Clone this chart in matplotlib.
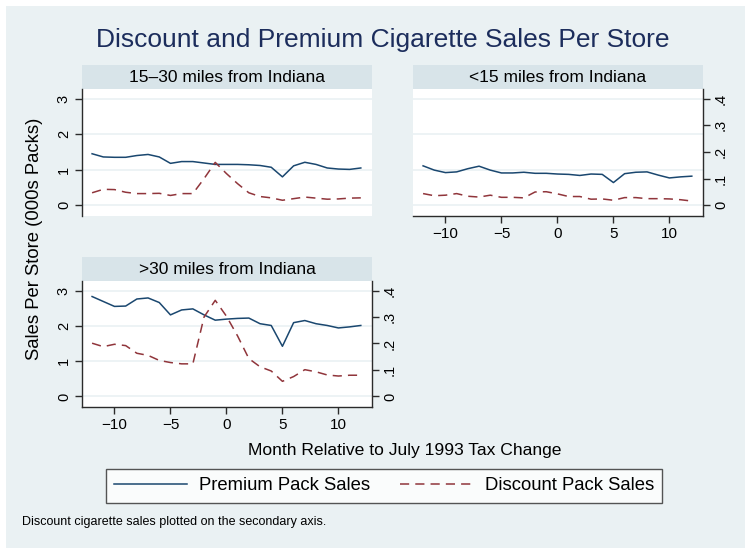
import matplotlib.pyplot as plt
from matplotlib.lines import Line2D
from matplotlib.patches import Rectangle

plt.rcParams['font.family'] = ['Liberation Sans', 'DejaVu Sans']
plt.rcParams['axes.unicode_minus'] = True

# months relative to the July 1993 tax change
months = list(range(-12, 13))

# premium sales (primary axis, 000s packs)
premium_15_30 = [1.45, 1.36, 1.35, 1.35, 1.40, 1.43, 1.36, 1.18, 1.23, 1.23, 1.19, 1.15, 1.15,
                 1.15, 1.14, 1.12, 1.07, 0.80, 1.11, 1.21, 1.15, 1.05, 1.02, 1.01, 1.05]
premium_lt15 = [1.11, 0.99, 0.92, 0.94, 1.03, 1.10, 0.99, 0.91, 0.91, 0.93, 0.90, 0.90, 0.88,
                0.87, 0.84, 0.88, 0.87, 0.64, 0.89, 0.93, 0.94, 0.85, 0.77, 0.80, 0.82]
premium_gt30 = [2.83, 2.69, 2.55, 2.56, 2.76, 2.79, 2.66, 2.31, 2.45, 2.48, 2.31, 2.16, 2.19,
                2.21, 2.22, 2.06, 2.01, 1.42, 2.09, 2.15, 2.06, 2.01, 1.94, 1.97, 2.01]

# discount sales (secondary axis)
discount_15_30 = [0.047, 0.060, 0.059, 0.049, 0.044, 0.044, 0.045, 0.037, 0.044, 0.044, 0.100, 0.161, 0.119,
                  0.081, 0.047, 0.033, 0.028, 0.019, 0.025, 0.031, 0.027, 0.023, 0.024, 0.027, 0.028]
discount_lt15 = [0.044, 0.036, 0.038, 0.044, 0.034, 0.031, 0.038, 0.030, 0.030, 0.028, 0.050, 0.051, 0.043,
                 0.033, 0.033, 0.023, 0.024, 0.019, 0.029, 0.029, 0.025, 0.025, 0.024, 0.021, 0.016]
discount_gt30 = [0.201, 0.188, 0.197, 0.192, 0.163, 0.155, 0.136, 0.128, 0.123, 0.123, 0.300, 0.363, 0.303,
                 0.228, 0.143, 0.112, 0.096, 0.057, 0.075, 0.101, 0.093, 0.081, 0.077, 0.080, 0.080]

panel_titles = ['15\u201330 miles from Indiana', '<15 miles from Indiana', '>30 miles from Indiana']
y_ticks = [0, 1, 2, 3]
y2_ticks = [0, 0.1, 0.2, 0.3, 0.4]
y2_labels = ['0', '.1', '.2', '.3', '.4']
x_ticks = [-10, -5, 0, 5, 10]

W, H = 745, 548
bg = '#eaf1f3'
strip_col = '#d8e4e9'
navy = '#1a476f'
maroon = '#90353b'
axcol = '#2b2b2b'
dash = (6, 4)


def box(x0, y0, x1, y1):
    # pixel box (top-left origin) -> figure fraction rect
    return [x0 / W, 1 - y1 / H, (x1 - x0) / W, (y1 - y0) / H]


fig = plt.figure(figsize=(W / 100, H / 100), dpi=100, facecolor='white')
fig.patches.append(Rectangle((6 / W, 0), 1, 1 - 6 / H, transform=fig.transFigure,
                             facecolor=bg, edgecolor='none', zorder=-10))

fig.text(383 / W, 1 - 40 / H, 'Discount and Premium Cigarette Sales Per Store',
         ha='center', va='center', fontsize=19, color='#1c2d5c')

panels = [
    # (x0, x1, y0 strip, y1 plot bottom, premium, discount, title, left axis, right axis, x axis)
    (82, 372, 65, 216, premium_15_30, discount_15_30, panel_titles[0], True, False, False),
    (413, 703, 65, 216, premium_lt15, discount_lt15, panel_titles[1], False, True, True),
    (82, 372, 257, 407, premium_gt30, discount_gt30, panel_titles[2], True, True, True),
]

for x0, x1, ys, yb, prem, disc, title, show_left, show_right, show_x in panels:
    strip = fig.add_axes(box(x0, ys, x1, ys + 24))
    strip.set_facecolor(strip_col)
    strip.set_xticks([])
    strip.set_yticks([])
    for s in strip.spines.values():
        s.set_visible(False)
    strip.text(0.5, 0.5, title, ha='center', va='center', fontsize=12.5, transform=strip.transAxes)

    ax = fig.add_axes(box(x0, ys + 24, x1, yb))
    ax.set_facecolor('white')
    ax.set_xlim(-12.9, 13.0)
    ax.set_ylim(-0.3, 3.27)
    ax.set_yticks(y_ticks)
    ax.set_xticks(x_ticks)
    ax.grid(axis='y', color=bg, linewidth=1.2)
    ax.set_axisbelow(True)
    ax.plot(months, prem, color=navy, linewidth=1.1, zorder=3)

    ax2 = ax.twinx()
    ax2.set_ylim(-0.3 / 7.5, 3.27 / 7.5)
    ax2.set_yticks(y2_ticks)
    ax2.set_yticklabels(y2_labels)
    ax2.plot(months, disc, color=maroon, linewidth=1.1, dashes=dash)

    for a in (ax, ax2):
        for s in a.spines.values():
            s.set_visible(False)
            s.set_color(axcol)
            s.set_linewidth(1.0)

    ax.spines['left'].set_visible(show_left)
    ax.spines['bottom'].set_visible(show_x)
    ax2.spines['right'].set_visible(show_right)

    ax.tick_params(axis='y', left=show_left, labelleft=show_left, labelrotation=90,
                   length=5, width=1, color=axcol, labelsize=10.5, pad=3)
    for lab in ax.get_yticklabels():
        lab.set_va('center')
    ax.tick_params(axis='x', bottom=show_x, labelbottom=show_x, length=5, width=1,
                   color=axcol, labelsize=11, pad=3)
    ax2.tick_params(axis='y', right=show_right, labelright=show_right, labelrotation=90,
                    length=5, width=1, color=axcol, labelsize=10.5, pad=3)
    for lab in ax2.get_yticklabels():
        lab.set_va('center')

fig.text(35 / W, 1 - 239 / H, 'Sales Per Store (000s Packs)', rotation=90,
         ha='center', va='center', fontsize=13.3)
fig.text(405 / W, 1 - 451 / H, 'Month Relative to July 1993 Tax Change',
         ha='center', va='center', fontsize=12.6)

handles = [Line2D([], [], color=navy, linewidth=1.1),
           Line2D([], [], color=maroon, linewidth=1.1, dashes=dash)]
leg = fig.legend(handles, ['Premium Pack Sales', 'Discount Pack Sales'], loc='center',
                 bbox_to_anchor=(384 / W, 1 - 486 / H), ncol=2, fontsize=13.3,
                 frameon=True, fancybox=False, handlelength=3.95, handletextpad=0.65,
                 columnspacing=1.6, borderpad=0.45)
leg.get_frame().set_edgecolor(axcol)
leg.get_frame().set_linewidth(1.0)

fig.text(22 / W, 1 - 522 / H, 'Discount cigarette sales plotted on the secondary axis.',
         ha='left', va='center', fontsize=9)

fig.savefig('out.png', dpi=100)
